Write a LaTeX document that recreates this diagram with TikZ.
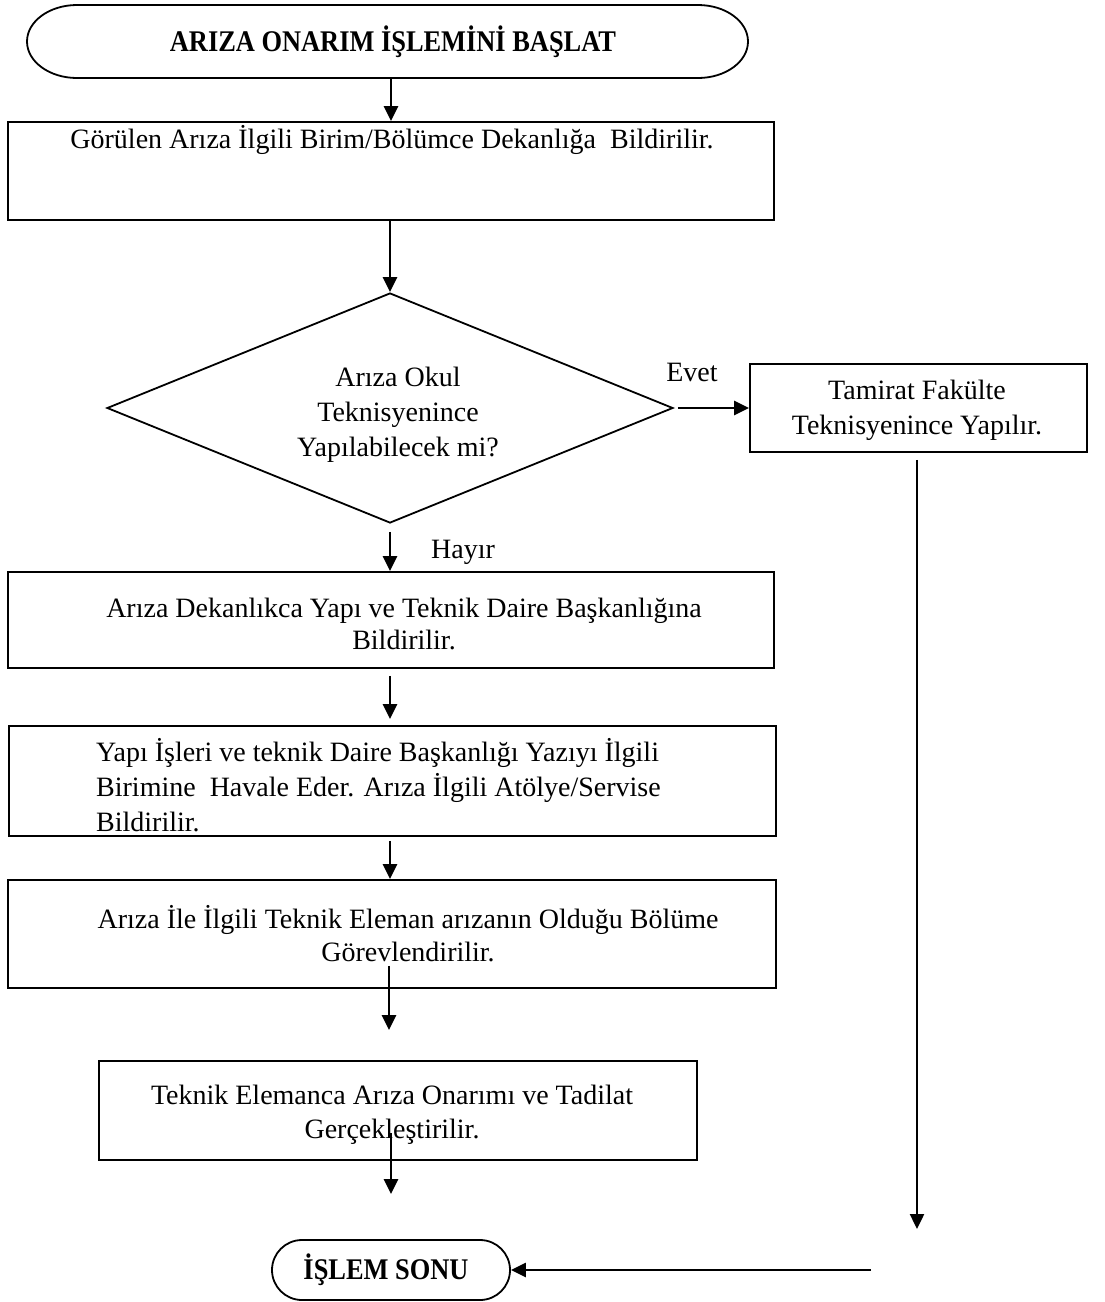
\documentclass[tikz,border=0pt]{standalone}
\usepackage{fontspec}
\setmainfont{Liberation Serif}
\usetikzlibrary{arrows.meta,shapes.geometric,shapes.misc}
\begin{document}
\begin{tikzpicture}[x=1pt,y=-1pt,
  box/.style={draw, line width=1.8pt, inner sep=0pt},
  txt/.style={font=\fontsize{28}{35}\selectfont, align=center, inner sep=0pt},
  boldtxt/.style={font=\fontsize{30}{35}\selectfont\bfseries\addfontfeature{FakeStretch=0.88}, inner sep=0pt},
  arr/.style={line width=2.4pt, -{Triangle[width=14pt,length=15pt]}},
]
\useasboundingbox (0,0) rectangle (1105,1302);
\fill[white] (0,0) rectangle (1105,1302);

% start terminator with elliptical ends
\node[boldtxt] (s) at (393,42) {ARIZA ONARIM İŞLEMİNİ BAŞLAT};
\draw[line width=1.8pt] (77,5) -- (698,5)
  arc[start angle=-90,end angle=90,x radius=50,y radius=36.5]
  -- (77,78)
  arc[start angle=90,end angle=270,x radius=50,y radius=36.5] -- cycle;
\coordinate (stop) at (391,78);

% process boxes
\node[box, minimum width=766pt, minimum height=98pt] (b1) at (391,171) {};
\node[txt] (b1t) at (392,140) {Görülen Arıza İlgili Birim/Bölümce Dekanlığa~ Bildirilir.};

\node[box, diamond, minimum width=566pt, minimum height=230pt] (d) at (390,408) {};
\node[txt] (dt) at (398,415) {Arıza Okul\\Teknisyenince\\Yapılabilecek mi?};

\node[box, minimum width=337pt, minimum height=88pt] (tm) at (918.5,408) {};
\node[txt] (tmt) at (917,410) {Tamirat Fakülte\\Teknisyenince Yapılır.};

\node[txt] (evet) at (692,372) {Evet};
\node[txt] (hayir) at (463,552) {Hayır};

\node[box, minimum width=766pt, minimum height=96pt] (b3) at (391,620) {};
\node[txt, font=\fontsize{28}{32}\selectfont] (b3t) at (404,624) {Arıza Dekanlıkca Yapı ve Teknik Daire Başkanlığına\\Bildirilir.};

\node[box, minimum width=767pt, minimum height=110pt] (b4) at (392.5,781) {};
\node[txt, align=left, anchor=west] (b4t) at (96,785)
  {Yapı İşleri ve teknik Daire Başkanlığı Yazıyı İlgili\\Birimine~ Havale Eder. Arıza İlgili Atölye/Servise\\Bildirilir.};

\node[box, minimum width=768pt, minimum height=108pt] (b5) at (392,934) {};
\node[txt, font=\fontsize{28}{33}\selectfont] (b5t) at (408,934) {Arıza İle İlgili Teknik Eleman arızanın Olduğu Bölüme\\Görevlendirilir.};

\node[box, minimum width=598pt, minimum height=99pt] (b6) at (398,1110.5) {};
\node[txt, font=\fontsize{28}{34}\selectfont] (b6t) at (392,1115) {Teknik Elemanca Arıza Onarımı ve Tadilat\\Gerçekleştirilir.};

% end terminator
\node[box, rounded rectangle, minimum width=238pt, minimum height=60pt] (e) at (391,1270) {};
\node[boldtxt] (et) at (386,1270) {İŞLEM SONU};

% connectors
\coordinate (rc) at (917,1229);
\coordinate (ec) at (871,1270);
\draw[arr] (stop) -- (b1.north -| stop);
\draw[arr] (b1.south -| d.north) -- (d.north);
\draw[arr, shorten <=4pt] (d.east) -- (tm.west |- d.east);
\draw[arr, shorten <=8pt] (d.south) -- (b3.north -| d.south);
\draw[arr, shorten <=7pt, shorten >=6pt] (b3.south -| d.south) -- (b4.north -| d.south);
\draw[arr, shorten <=4pt] (b4.south -| d.south) -- (b5.north -| d.south);
\draw[arr, shorten <=-23pt, shorten >=30pt] (b5.south -| 389,0) -- (b6.north -| 389,0);
\draw[arr, shorten <=-28pt, shorten >=45pt] (b6.south -| 391,0) -- (e.north -| 391,0);
\draw[arr, shorten <=7pt] (tm.south -| rc) -- (rc);
\draw[arr] (ec) -- (e.east);
\end{tikzpicture}
\end{document}
